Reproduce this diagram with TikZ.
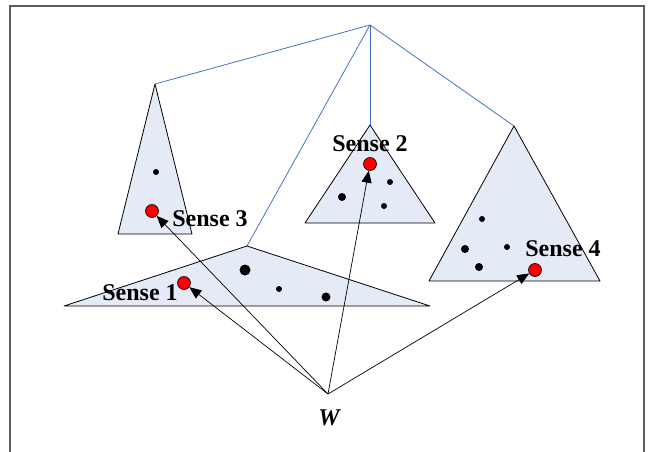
\documentclass[tikz,border=0pt]{standalone}
\usepackage{fontspec}
\setmainfont{Liberation Serif}
\usetikzlibrary{arrows.meta,positioning,calc}
\definecolor{treeblue}{RGB}{68,114,196}
\definecolor{paneshade}{RGB}{228,234,246}
\definecolor{sensered}{RGB}{255,0,0}
\definecolor{ink}{RGB}{35,38,45}

\begin{document}
\begin{tikzpicture}[x=1pt,y=-1pt,
          pane/.style={draw=black,fill=paneshade,line width=0.8pt,line join=round},
          link/.style={draw=treeblue,line width=0.8pt},
          wd/.style={circle,fill=black,inner sep=0pt,minimum size=#1},
          hit/.style={circle,draw=black,fill=sensered,inner sep=0pt,minimum size=13pt,line width=0.6pt},
          lbl/.style={font=\fontsize{24}{24}\selectfont\bfseries,inner sep=0pt},
          ar/.style={-{Triangle[length=12pt,width=10pt]},draw=black,line width=0.7pt}
        ]
        \useasboundingbox (0,0) rectangle (651,452);
        \draw[ink!75,line width=1.2pt] (10,452) -- (10,6) -- (644,6) -- (644,452);
        % tree
        \coordinate (root) at (370,25);
        \coordinate (a3) at (155,84);
        \coordinate (a2) at (370,125);
        \coordinate (a4) at (514,126);
        \coordinate (a1) at (247,246);
        \foreach \t in {a3,a1,a2,a4} \draw[link] (root) -- (\t);
        % sense sets
        \draw[pane] (a3) -- (118,234) -- (192,234) -- cycle;
        \draw[pane] (a2) -- (305,223) -- (435,223) -- cycle;
        \draw[pane] (a4) -- (429,281) -- (600,281) -- cycle;
        \draw[pane] (a1) -- (64,306) -- (430,306) -- cycle;
        % words
        \node[wd=6pt] (w31) at (156,172) {};
        \node[wd=6pt] (w21) at (390,182) {};
        \node[wd=8pt] (w22) at (342,197) {};
        \node[wd=6pt] (w23) at (384,206) {};
        \node[wd=11pt] (w11) at (245,270) {};
        \node[wd=6pt] (w12) at (279,289) {};
        \node[wd=9pt] (w13) at (326,297) {};
        \node[wd=6pt] (w41) at (482,219) {};
        \node[wd=8pt] (w42) at (465,249) {};
        \node[wd=6pt] (w43) at (507,247) {};
        \node[wd=8pt] (w44) at (479,267) {};
        % chosen senses
        \node[hit] (s3) at (152,211) {};
        \node[hit] (s2) at (370,164) {};
        \node[hit] (s1) at (184,283) {};
        \node[hit] (s4) at (535,270) {};
        \node[lbl] (l3) at (210,219) {Sense 3};
        \node[lbl] (l2) at (370,144) {Sense 2};
        \node[lbl] (l1) at (140,293) {Sense 1};
        \node[lbl] (l4) at (563,249) {Sense 4};
        \coordinate (w) at (328,394);
        \node[font=\fontsize{24}{24}\selectfont\bfseries\itshape,inner sep=0pt] (wl) at (329,418) {W};
        \foreach \s in {s3,s1,s2,s4} \draw[ar] (w) -- (\s);
      \end{tikzpicture}
\end{document}
